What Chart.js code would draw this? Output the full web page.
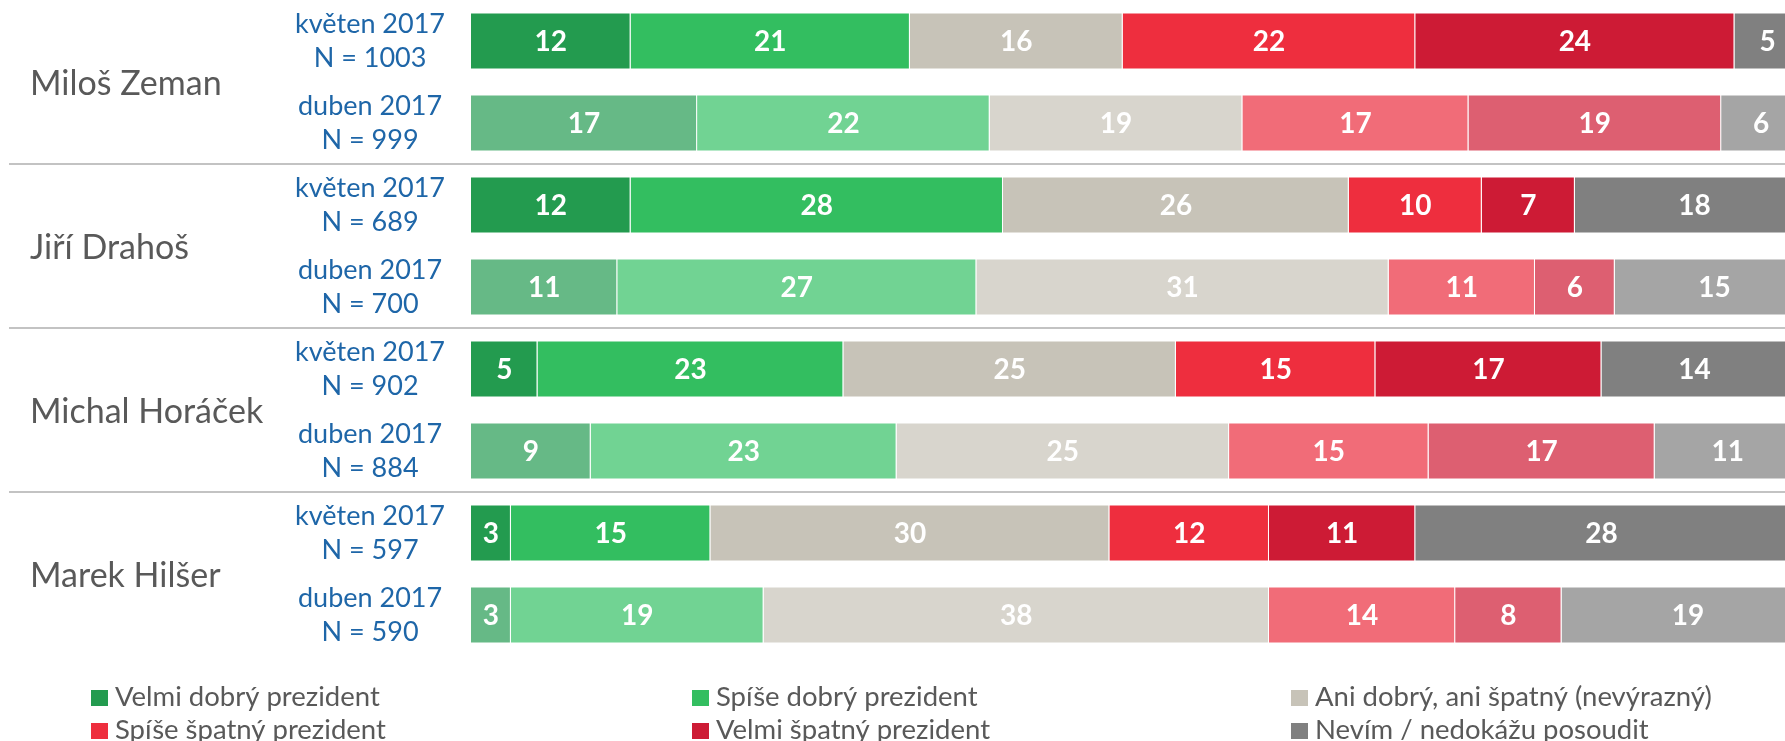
<!DOCTYPE html>
<html lang="cs">
  <head>
    <meta charset="UTF-8" />
    <meta name="viewport" content="width=device-width, initial-scale=1.0" />
    <title>Hodnocení kandidátů na prezidenta</title>
    <script src="https://cdn.jsdelivr.net/npm/chart.js@4.4.0/dist/chart.umd.min.js"></script>
    <style>
      body { margin: 0; background: #ffffff; }
    </style>
  </head>
  <body>
    <canvas id="chart" width="1785" height="741"></canvas>
    <script>

    // candidates, each has two survey waves (květen first, duben second)
    const candidates = ['Miloš Zeman', 'Jiří Drahoš', 'Michal Horáček', 'Marek Hilšer'];
    const waves = [
      ['květen 2017', 'N = 1003'], ['duben 2017', 'N = 999'],
      ['květen 2017', 'N = 689'],  ['duben 2017', 'N = 700'],
      ['květen 2017', 'N = 902'],  ['duben 2017', 'N = 884'],
      ['květen 2017', 'N = 597'],  ['duben 2017', 'N = 590']
    ];
    const answers = [
      'Velmi dobrý prezident', 'Spíše dobrý prezident', 'Ani dobrý, ani špatný (nevýrazný)',
      'Spíše špatný prezident', 'Velmi špatný prezident', 'Nevím / nedokážu posoudit'
    ];

    // percentages per answer, in the order of waves
    const velmiDobry  = [12, 17, 12, 11, 5, 9, 3, 3];
    const spiseDobry  = [21, 22, 28, 27, 23, 23, 15, 19];
    const aniAni      = [16, 19, 26, 31, 25, 25, 30, 38];
    const spiseSpatny = [22, 17, 10, 11, 15, 15, 12, 14];
    const velmiSpatny = [24, 19, 7, 6, 17, 17, 11, 8];
    const nevim       = [5, 6, 18, 15, 14, 11, 28, 19];
    const series = [velmiDobry, spiseDobry, aniAni, spiseSpatny, velmiSpatny, nevim];

    const mayColors   = ['#239b4f', '#33be60', '#c7c3b8', '#ee2e3e', '#cd1b35', '#808080'];
    const aprilColors = ['#66b986', '#71d393', '#d8d5cd', '#f16c78', '#dd5f71', '#a5a5a5'];

    const legendCols = [91, 692, 1291];
    const legendRows = [690, 723];

    const extras = {
      id: 'extras',
      afterDatasetsDraw(chart) {
        const ctx = chart.ctx;
        ctx.save();
        ctx.font = 'bold 28px Lato';
        ctx.fillStyle = '#ffffff';
        ctx.textAlign = 'center';
        ctx.textBaseline = 'middle';
        chart.data.datasets.forEach((ds, i) => {
          chart.getDatasetMeta(i).data.forEach((bar, j) => {
            const p = bar.getCenterPoint();
            ctx.fillText(ds.data[j], p.x, p.y + 1);
          });
        });
        ctx.restore();
      },
      afterDraw(chart) {
        const ctx = chart.ctx;
        const y = chart.scales.y;
        ctx.save();

        // grey lines between candidates
        ctx.strokeStyle = '#c3c3c3';
        ctx.lineWidth = 2;
        for (let i = 1; i < waves.length - 1; i += 2) {
          const yy = Math.round((y.getPixelForValue(i) + y.getPixelForValue(i + 1)) / 2);
          ctx.beginPath();
          ctx.moveTo(9, yy);
          ctx.lineTo(chart.width, yy);
          ctx.stroke();
        }

        // candidate names
        ctx.font = '34px Lato';
        ctx.fillStyle = '#595959';
        ctx.textAlign = 'left';
        ctx.textBaseline = 'alphabetic';
        candidates.forEach((name, k) => {
          const mid = (y.getPixelForValue(2 * k) + y.getPixelForValue(2 * k + 1)) / 2;
          ctx.fillText(name, 30, mid + 13);
        });

        // legend in three columns
        ctx.font = '27.5px Lato';
        chart.data.datasets.forEach((ds, i) => {
          const x = legendCols[i % 3];
          const top = legendRows[Math.floor(i / 3)];
          ctx.fillStyle = mayColors[i];
          ctx.fillRect(x, top, 17, 16);
          ctx.fillStyle = '#595959';
          ctx.fillText(ds.label, x + 24, top + 16);
        });
        ctx.restore();
      }
    };

    const ctx = document.getElementById('chart').getContext('2d');
    const myChart = new Chart(ctx, {
      type: 'bar',
      data: {
        labels: waves,
        datasets: answers.map((label, i) => ({
          label: label,
          data: series[i],
          backgroundColor: waves.map((w, j) => j % 2 === 0 ? mayColors[i] : aprilColors[i]),
          borderColor: 'rgba(255, 255, 255, 0.3)',
          borderWidth: 1,
          barPercentage: 0.695,
          categoryPercentage: 1
        }))
      },
      options: {
        indexAxis: 'y',
        responsive: false,
        animation: false,
        layout: { padding: { top: 0, bottom: 85, left: 0, right: 0 } },
        plugins: {
          legend: { display: false },
          tooltip: { enabled: false }
        },
        scales: {
          x: {
            stacked: true,
            display: false,
            min: 0,
            max: 98.8
          },
          y: {
            stacked: true,
            grid: { display: false, drawTicks: false },
            border: { display: false },
            ticks: {
              color: '#1e66a8',
              crossAlign: 'center',
              padding: 26,
              font: { family: 'Lato', size: 27, lineHeight: 1.26 }
            },
            afterFit: scale => {
              scale.width = 471;
              // labels sit inside the bands, no extra room needed above/below
              scale.paddingTop = 0;
              scale.paddingBottom = 0;
            }
          }
        }
      },
      plugins: [extras]
    });

    </script>
  </body>
</html>
